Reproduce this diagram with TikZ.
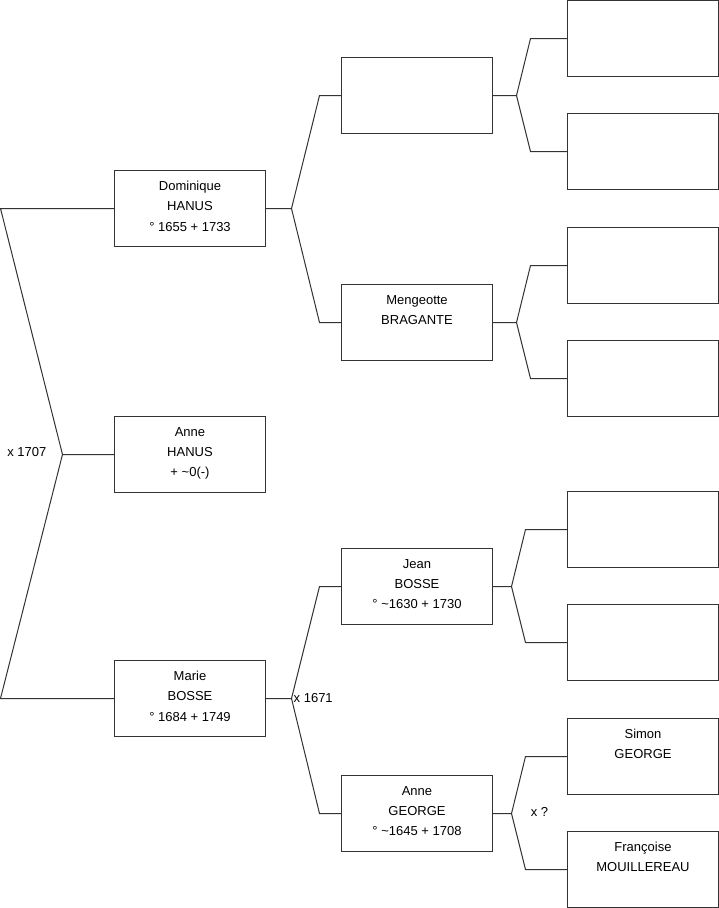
\documentclass[tikz,border=0pt]{standalone}
\usepackage{fontspec}
\setmainfont{Liberation Sans}
\usetikzlibrary{positioning}

% text of a person box, set from the top
\newcommand{\persontext}[1]{\parbox[c][76pt][t]{151pt}{\centering\fontsize{13}{20.3}\selectfont\vspace*{10.7pt}\leavevmode#1}}

\tikzset{
  person/.style={draw=black!80, line width=1pt, inner sep=0pt, outer sep=0pt, anchor=north west},
  link/.style={draw=black!80, line width=1pt},
  wedding/.style={inner sep=0pt, font=\fontsize{13}{15}\selectfont}
}

\begin{document}
\begin{tikzpicture}[x=1pt,y=-1pt]
    \useasboundingbox (-0.5,-0.5) rectangle (718.5,907.5);

    % Gen 1
    \node[person] (dom) at (114,170) {\persontext{Dominique\\HANUS\\° 1655 + 1733}};
    \node[person] (anne) at (114,416) {\persontext{Anne\\HANUS\\+ \textasciitilde0(-)}};
    \node[person] (marie) at (114,660) {\persontext{Marie\\BOSSE\\° 1684 + 1749}};

    % Gen 2
    \node[person] (fdom) at (341,57) {\persontext{}};
    \node[person] (mdom) at (341,284) {\persontext{Mengeotte\\BRAGANTE}};
    \node[person] (jean) at (341,548) {\persontext{Jean\\BOSSE\\° \textasciitilde1630 + 1730}};
    \node[person] (anneg) at (341,775) {\persontext{Anne\\GEORGE\\° \textasciitilde1645 + 1708}};

    % Gen 3
    \node[person] (ffdom) at (567,0) {\persontext{}};
    \node[person] (mfdom) at (567,113) {\persontext{}};
    \node[person] (fmdom) at (567,227) {\persontext{}};
    \node[person] (mmdom) at (567,340) {\persontext{}};
    \node[person] (fjean) at (567,491) {\persontext{}};
    \node[person] (mjean) at (567,604) {\persontext{}};
    \node[person] (simon) at (567,718) {\persontext{Simon\\GEORGE}};
    \node[person] (franc) at (567,831) {\persontext{Françoise\\MOUILLEREAU}};

    % forks
    \coordinate (k0) at (62,454);
    \coordinate (k0a) at (0,208);
    \coordinate (k0b) at (0,698);
    \draw[link] (anne.west) -- (k0) -- (k0a) -- (dom.west);
    \draw[link] (k0) -- (k0b) -- (marie.west);
    \node[wedding, anchor=east] (w0) at (46,452) {x 1707};

    \coordinate (k1) at (291,208);
    \coordinate (k1a) at (319,95);
    \coordinate (k1b) at (319,322);
    \draw[link] (dom.east) -- (k1) -- (k1a) -- (fdom.west);
    \draw[link] (k1) -- (k1b) -- (mdom.west);

    \coordinate (k2) at (291,698);
    \coordinate (k2a) at (319,586);
    \coordinate (k2b) at (319,813);
    \draw[link] (marie.east) -- (k2) -- (k2a) -- (jean.west);
    \draw[link] (k2) -- (k2b) -- (anneg.west);
    \node[wedding, anchor=west] (w2) at (293,698) {x 1671};

    \coordinate (k3) at (516,95);
    \coordinate (k3a) at (530,38);
    \coordinate (k3b) at (530,151);
    \draw[link] (fdom.east) -- (k3) -- (k3a) -- (ffdom.west);
    \draw[link] (k3) -- (k3b) -- (mfdom.west);

    \coordinate (k4) at (516,322);
    \coordinate (k4a) at (530,265);
    \coordinate (k4b) at (530,378);
    \draw[link] (mdom.east) -- (k4) -- (k4a) -- (fmdom.west);
    \draw[link] (k4) -- (k4b) -- (mmdom.west);

    \coordinate (k5) at (511,586);
    \coordinate (k5a) at (525,529);
    \coordinate (k5b) at (525,642);
    \draw[link] (jean.east) -- (k5) -- (k5a) -- (fjean.west);
    \draw[link] (k5) -- (k5b) -- (mjean.west);

    \coordinate (k6) at (511,813);
    \coordinate (k6a) at (525,756);
    \coordinate (k6b) at (525,869);
    \draw[link] (anneg.east) -- (k6) -- (k6a) -- (simon.west);
    \draw[link] (k6) -- (k6b) -- (franc.west);
    \node[wedding] (w6) at (539,811) {x ?};
\end{tikzpicture}
\end{document}
